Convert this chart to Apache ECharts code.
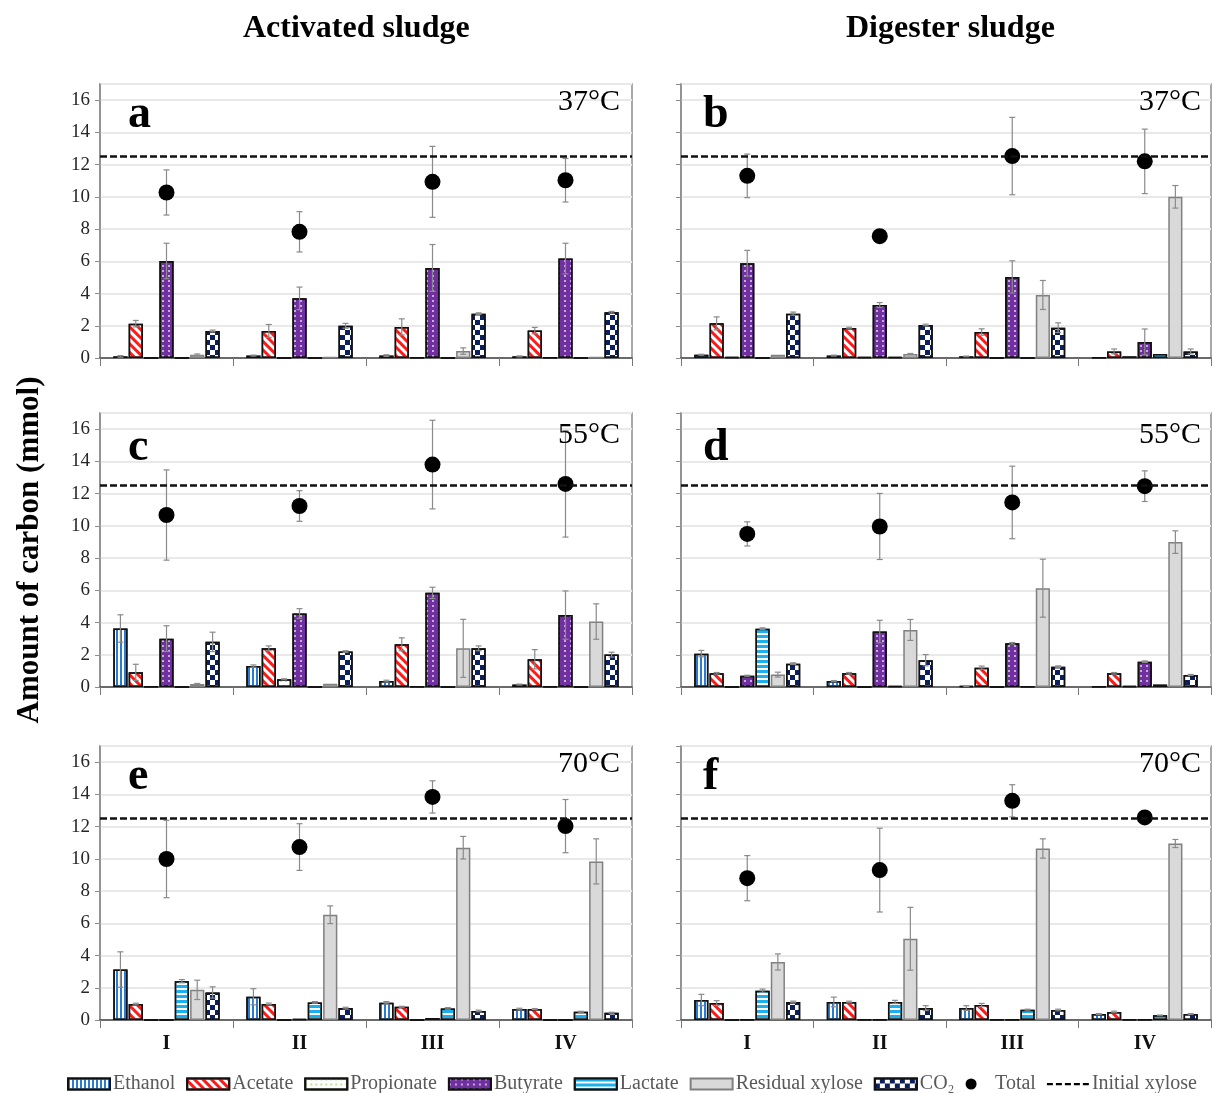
<!DOCTYPE html>
<html>
<head>
<meta charset="utf-8">
<script src="https://cdn.jsdelivr.net/npm/echarts@6/dist/echarts.min.js"></script>
<style>
  html, body { margin: 0; padding: 0; background: #fff; }
  #chart { width: 1213px; height: 1093px; }
</style>
</head>
<body>
<div id="chart"></div>
<script>
// groups and panels
const groups = ['I', 'II', 'III', 'IV'];
const panelLetters = ['a', 'b', 'c', 'd', 'e', 'f'];
const temps = ['37°C', '37°C', '55°C', '55°C', '70°C', '70°C'];
const initialXylose = [12.5, 12.5, 12.5, 12.5, 12.5, 12.5];

// one row per panel (a..f), one value per group (I..IV), mmol C
const ethanol = [
  [0.1, 0.15, 0.15, 0.1], [0.2, 0.15, 0.1, 0.02], [3.63, 1.3, 0.37, 0.15],
  [2.07, 0.37, 0.05, 0.02], [3.13, 1.44, 1.07, 0.68], [1.24, 1.12, 0.74, 0.37]
];
const ethanolErr = [
  [0.05, 0.03, 0.05, 0.03], [0.03, 0.03, 0.02, 0], [0.85, 0.07, 0.05, 0.03],
  [0.2, 0.03, 0.02, 0], [1.1, 0.5, 0.07, 0.05], [0.35, 0.3, 0.15, 0.03]
];
const acetate = [
  [2.13, 1.68, 1.93, 1.7], [2.15, 1.86, 1.61, 0.41], [0.91, 2.4, 2.65, 1.72],
  [0.85, 0.85, 1.2, 0.85], [0.99, 1.0, 0.82, 0.68], [1.05, 1.12, 0.93, 0.5]
];
const acetateErr = [
  [0.2, 0.4, 0.5, 0.2], [0.4, 0.05, 0.2, 0.15], [0.5, 0.15, 0.4, 0.6],
  [0.05, 0.05, 0.1, 0.05], [0.05, 0.05, 0.03, 0.03], [0.15, 0.05, 0.1, 0.05]
];
const propionate = [
  [0, 0, 0.02, 0.02], [0.05, 0.05, 0, 0.1], [0.02, 0.48, 0.02, 0.02],
  [0, 0, 0, 0.05], [0, 0, 0, 0], [0, 0.02, 0.02, 0.02]
];
const propionateErr = [
  [0, 0, 0, 0], [0, 0, 0, 0], [0, 0.03, 0, 0],
  [0, 0, 0, 0], [0, 0, 0, 0], [0, 0, 0, 0]
];
const butyrate = [
  [6.02, 3.7, 5.59, 6.17], [5.88, 3.29, 5.03, 1.0], [3.0, 4.56, 5.84, 4.46],
  [0.7, 3.44, 2.71, 1.57], [0, 0.05, 0.12, 0], [0.02, 0.02, 0.02, 0.02]
];
const butyrateErr = [
  [1.1, 0.7, 1.45, 0.95], [0.8, 0.15, 1.0, 0.8], [0.8, 0.3, 0.35, 1.5],
  [0.03, 0.7, 0.05, 0.05], [0, 0, 0, 0], [0, 0, 0, 0]
];
const lactate = [
  [0, 0, 0, 0], [0, 0.05, 0, 0.25], [0, 0, 0, 0],
  [3.62, 0.05, 0.02, 0.15], [2.41, 1.09, 0.72, 0.51], [1.82, 1.12, 0.64, 0.29]
];
const lactateErr = [
  [0, 0, 0, 0], [0, 0, 0, 0], [0, 0, 0, 0],
  [0.05, 0, 0, 0], [0.1, 0.05, 0.05, 0.03], [0.1, 0.1, 0.03, 0.02]
];
const xylose = [
  [0.2, 0.05, 0.43, 0.05], [0.2, 0.25, 3.91, 10.0], [0.19, 0.2, 2.4, 4.06],
  [0.77, 3.54, 6.13, 8.99], [1.87, 6.53, 10.69, 9.84], [3.6, 5.04, 10.64, 10.95]
];
const xyloseErr = [
  [0.05, 0, 0.2, 0], [0, 0.03, 0.9, 0.7], [0.03, 0, 1.8, 1.1],
  [0.15, 0.65, 1.8, 0.7], [0.6, 0.55, 0.7, 1.4], [0.5, 1.95, 0.6, 0.25]
];
const co2 = [
  [1.68, 2.0, 2.75, 2.84], [2.75, 2.05, 1.88, 0.41], [2.8, 2.2, 2.4, 2.01],
  [1.45, 1.66, 1.26, 0.75], [1.71, 0.74, 0.56, 0.45], [1.12, 0.74, 0.62, 0.37]
];
const co2Err = [
  [0.05, 0.15, 0.05, 0.05], [0.1, 0.05, 0.3, 0.15], [0.6, 0.05, 0.15, 0.15],
  [0.05, 0.35, 0.05, 0.03], [0.35, 0.05, 0.05, 0.03], [0.05, 0.15, 0.05, 0.03]
];
const total = [
  [10.27, 7.83, 10.93, 11.03], [11.3, 7.56, 12.53, 12.2], [10.67, 11.23, 13.8, 12.6],
  [9.5, 9.96, 11.45, 12.46], [9.99, 10.73, 13.84, 12.03], [8.8, 9.3, 13.6, 12.57]
];
const totalErr = [
  [1.4, 1.25, 2.2, 1.35], [1.35, 0.1, 2.4, 2.0], [2.8, 0.95, 2.75, 3.3],
  [0.75, 2.05, 2.25, 0.95], [2.4, 1.45, 1.0, 1.65], [1.4, 2.6, 1.0, 0.3]
];

const SERIF = '"Liberation Serif", "Times New Roman", serif';
const CAT_GAP = 0.2;
const BAR_GAP = 0.08;

// compound styles (pattern fills via decal)
const compounds = [
  { name: 'Ethanol', values: ethanol, err: ethanolErr, color: '#fff', border: '#111',
    decal: { symbol: 'rect', symbolSize: 1, color: '#2b7bd0', dashArrayX: [2, 2], dashArrayY: [1, 0] } },
  { name: 'Acetate', values: acetate, err: acetateErr, color: '#fff', border: '#111',
    decal: { symbol: 'rect', symbolSize: 1, color: '#ff1a1a', dashArrayX: [1, 0], dashArrayY: [3, 3], rotation: Math.PI / 4 } },
  { name: 'Propionate', values: propionate, err: propionateErr, color: '#fff', border: '#111',
    decal: { symbol: 'rect', symbolSize: 0.8, color: '#92d050', dashArrayX: [2, 3], dashArrayY: [2, 3] } },
  { name: 'Butyrate', values: butyrate, err: butyrateErr, color: '#7030a0', border: '#111',
    decal: { symbol: 'rect', symbolSize: 1, color: 'rgba(255,255,255,0.6)', dashArrayX: [2, 4], dashArrayY: [2, 3] } },
  { name: 'Lactate', values: lactate, err: lactateErr, color: '#fff', border: '#111',
    decal: { symbol: 'rect', symbolSize: 1, color: '#1ab0ee', dashArrayX: [1, 0], dashArrayY: [3, 2] } },
  { name: 'Residual xylose', values: xylose, err: xyloseErr, color: '#d9d9d9', border: '#808080', decal: null },
  { name: 'CO₂', values: co2, err: co2Err, color: '#fff', border: '#111',
    decal: { symbol: 'rect', symbolSize: 1, color: '#0b1f5c', dashArrayX: [[5, 5], [0, 5, 5, 0]], dashArrayY: [5, 0] } }
];

const colLeft = [100, 681];
const colWidth = [532, 530];
const rowTop = [84, 413, 746];
const panelHeight = 274;

function errRenderer(k) {
  return function (params, api) {
    const e = api.value(2);
    if (!(e > 0)) return null;
    const i = api.value(0);
    const v = api.value(1);
    let off = 0;
    if (k !== null) {
      const band = api.size([1, 0])[0];
      const usable = band * (1 - CAT_GAP);
      const bw = usable / (7 + 6 * BAR_GAP);
      off = -usable / 2 + bw / 2 + k * bw * (1 + BAR_GAP);
    }
    const hi = api.coord([i, v + e]);
    const lo = api.coord([i, Math.max(v - e, 0)]);
    const x = hi[0] + off;
    const cap = 3;
    const style = { stroke: '#8a8a8a', lineWidth: 1.2 };
    return {
      type: 'group',
      children: [
        { type: 'line', shape: { x1: x, y1: hi[1], x2: x, y2: lo[1] }, style },
        { type: 'line', shape: { x1: x - cap, y1: hi[1], x2: x + cap, y2: hi[1] }, style },
        { type: 'line', shape: { x1: x - cap, y1: lo[1], x2: x + cap, y2: lo[1] }, style }
      ]
    };
  };
}

const grid = [];
const xAxis = [];
const yAxis = [];
const series = [];
const graphic = [];

for (let p = 0; p < 6; p++) {
  const row = Math.floor(p / 2);
  const col = p % 2;
  const left = colLeft[col];
  const top = rowTop[row];
  grid.push({
    left: left, top: top, width: colWidth[col], height: panelHeight,
    show: true, borderColor: '#8c8c8c', borderWidth: 1.5, backgroundColor: 'transparent'
  });
  xAxis.push({
    type: 'category', gridIndex: p, data: groups,
    axisLine: { lineStyle: { color: '#404040', width: 1.5 } },
    axisTick: { show: true, length: 8, lineStyle: { color: '#777' } },
    axisLabel: {
      show: row === 2, margin: 14, color: '#111',
      fontFamily: SERIF, fontWeight: 'bold', fontSize: 20
    }
  });
  yAxis.push({
    type: 'value', gridIndex: p, min: 0, max: 17, interval: 2,
    axisLine: { show: true, lineStyle: { color: '#8c8c8c', width: 1.5 } },
    axisTick: { show: true, length: 5, lineStyle: { color: '#8c8c8c' } },
    splitLine: { lineStyle: { color: '#e9e9e9', width: 2 } },
    axisLabel: {
      show: col === 0, showMaxLabel: false, margin: 10, color: '#262626',
      fontFamily: SERIF, fontSize: 19
    }
  });

  compounds.forEach(function (c) {
    const itemStyle = { color: c.color, borderColor: c.border, borderWidth: 1.5 };
    if (c.decal) itemStyle.decal = c.decal;
    series.push({
      name: c.name, type: 'bar', xAxisIndex: p, yAxisIndex: p,
      data: c.values[p], barGap: (BAR_GAP * 100) + '%', barCategoryGap: (CAT_GAP * 100) + '%',
      itemStyle: itemStyle, silent: true, z: 2
    });
  });
  compounds.forEach(function (c, k) {
    series.push({
      name: 'err-' + c.name, type: 'custom', xAxisIndex: p, yAxisIndex: p, z: 3, silent: true,
      renderItem: errRenderer(k), encode: { x: 0, y: 1 },
      data: c.values[p].map(function (v, i) { return [i, v, c.err[p][i]]; })
    });
  });
  series.push({
    name: 'err-Total', type: 'custom', xAxisIndex: p, yAxisIndex: p, z: 3, silent: true,
    renderItem: errRenderer(null), encode: { x: 0, y: 1 },
    data: total[p].map(function (v, i) { return [i, v, totalErr[p][i]]; })
  });
  series.push({
    name: 'Total', type: 'scatter', xAxisIndex: p, yAxisIndex: p, z: 4, silent: true,
    data: total[p], symbol: 'circle', symbolSize: 16, itemStyle: { color: '#000', opacity: 1 }
  });
  series.push({
    name: 'Initial xylose', type: 'line', xAxisIndex: p, yAxisIndex: p, z: 3, silent: true,
    data: [], symbol: 'none', itemStyle: { color: '#000' },
    lineStyle: { color: '#000', width: 2, type: [6, 3] },
    markLine: {
      silent: true, symbol: 'none', label: { show: false },
      lineStyle: { color: '#111', width: 2.5, type: [7, 3] },
      data: [{ yAxis: initialXylose[p] }]
    }
  });

  graphic.push({
    type: 'text', left: left + (col === 0 ? 28 : 22), top: top + (row === 1 ? 12 : 8), z: 10,
    style: { text: panelLetters[p], font: 'bold 46px ' + SERIF, fill: '#000' }
  });
  graphic.push({
    type: 'text', right: 1213 - (left + 520), top: top + (row === 1 ? 7 : 3), z: 10,
    style: { text: temps[p], font: '30px ' + SERIF, fill: '#000' }
  });
}

graphic.push({
  type: 'text', top: 13, left: 360 - 117, z: 10,
  style: { text: 'Activated sludge', font: 'bold 32px ' + SERIF, fill: '#000' }
});
graphic.push({
  type: 'text', top: 13, left: 953 - 107, z: 10,
  style: { text: 'Digester sludge', font: 'bold 32px ' + SERIF, fill: '#000' }
});
graphic.push({
  type: 'text', x: 30, y: 550, rotation: Math.PI / 2, z: 10,
  style: {
    text: 'Amount of carbon (mmol)', font: 'bold 31px ' + SERIF, fill: '#000',
    textAlign: 'center', textVerticalAlign: 'middle'
  }
});

// dashed legend icon; tiny corner marks keep the box 11 units tall
const dashIcon = 'path://M0,0h0.01v0.01h-0.01z M0,11h0.01v0.01h-0.01z' +
  'M0,4.5h6v2.2h-6z M9,4.5h6v2.2h-6z M18,4.5h6v2.2h-6z M27,4.5h6v2.2h-6z M36,4.5h6v2.2h-6z';

const legendNames = compounds.map(function (c) { return c.name; }).concat(['Total', 'Initial xylose']);

const chart = echarts.init(document.getElementById('chart'), null, { renderer: 'canvas' });
chart.setOption({
  animation: false,
  backgroundColor: '#fff',
  grid: grid,
  xAxis: xAxis,
  yAxis: yAxis,
  legend: {
    data: legendNames.map(function (n) {
      if (n === 'Total') return { name: n, icon: 'circle', itemStyle: { color: '#000' } };
      if (n === 'Initial xylose') return { name: n, icon: dashIcon, itemStyle: { color: '#000', borderWidth: 0 } };
      return { name: n, icon: 'rect' };
    }),
    left: 62, top: 1069, itemWidth: 42, itemHeight: 11, itemGap: 11,
    selectedMode: false,
    textStyle: { fontFamily: SERIF, fontSize: 20, color: '#595959', padding: [0, 0, 0, -2] }
  },
  graphic: graphic,
  series: series
});
</script>
</body>
</html>
